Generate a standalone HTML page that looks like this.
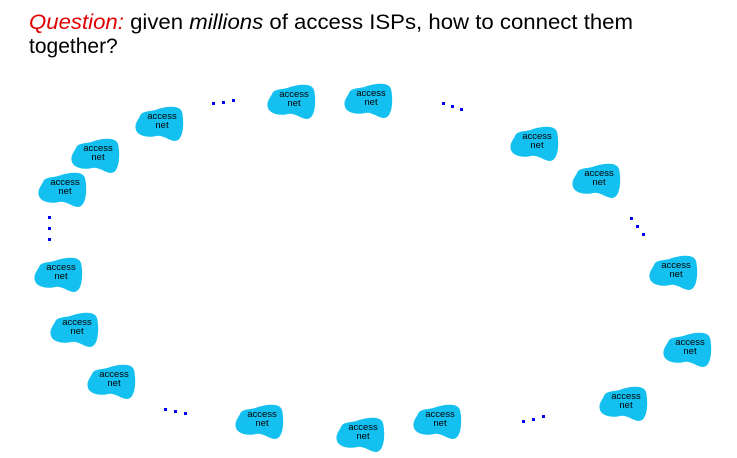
<!DOCTYPE html>
<html><head><meta charset="utf-8"><style>
html,body{margin:0;padding:0;background:#fff;}
svg{display:block;}
</style></head><body>
<svg width="737" height="458" viewBox="0 0 737 458" xmlns="http://www.w3.org/2000/svg">
<defs>
<path id="b" d="M6,10 C8,4 18,6 24,3 C34,0 46,-1 48,6 C50,14 50,30 44,34 C38,38 30,28 22,30 C14,32 4,30 2,24 C0,18 4,14 6,10 Z" fill="#14c0f0"/>
</defs>
<text x="29" y="29" font-family="Liberation Sans, sans-serif" font-size="21" textLength="604" lengthAdjust="spacingAndGlyphs"><tspan fill="#e00000" font-style="italic">Question:</tspan> given <tspan font-style="italic">millions</tspan> of access ISPs, how to connect them</text>
<text x="29" y="53" font-family="Liberation Sans, sans-serif" font-size="21">together?</text>
<g font-family="Liberation Sans, sans-serif" font-size="9.5" text-anchor="middle" fill="#000">
<g transform="translate(266,84)"><use href="#b"/><text x="28" y="13">access</text><text x="28" y="22">net</text></g>
<g transform="translate(343,83)"><use href="#b"/><text x="28" y="13">access</text><text x="28" y="22">net</text></g>
<g transform="translate(134,106)"><use href="#b"/><text x="28" y="13">access</text><text x="28" y="22">net</text></g>
<g transform="translate(70,138)"><use href="#b"/><text x="28" y="13">access</text><text x="28" y="22">net</text></g>
<g transform="translate(37,172)"><use href="#b"/><text x="28" y="13">access</text><text x="28" y="22">net</text></g>
<g transform="translate(509,126)"><use href="#b"/><text x="28" y="13">access</text><text x="28" y="22">net</text></g>
<g transform="translate(571,163)"><use href="#b"/><text x="28" y="13">access</text><text x="28" y="22">net</text></g>
<g transform="translate(33,257)"><use href="#b"/><text x="28" y="13">access</text><text x="28" y="22">net</text></g>
<g transform="translate(49,312)"><use href="#b"/><text x="28" y="13">access</text><text x="28" y="22">net</text></g>
<g transform="translate(86,364)"><use href="#b"/><text x="28" y="13">access</text><text x="28" y="22">net</text></g>
<g transform="translate(648,255)"><use href="#b"/><text x="28" y="13">access</text><text x="28" y="22">net</text></g>
<g transform="translate(662,332)"><use href="#b"/><text x="28" y="13">access</text><text x="28" y="22">net</text></g>
<g transform="translate(598,386)"><use href="#b"/><text x="28" y="13">access</text><text x="28" y="22">net</text></g>
<g transform="translate(234,404)"><use href="#b"/><text x="28" y="13">access</text><text x="28" y="22">net</text></g>
<g transform="translate(335,417)"><use href="#b"/><text x="28" y="13">access</text><text x="28" y="22">net</text></g>
<g transform="translate(412,404)"><use href="#b"/><text x="28" y="13">access</text><text x="28" y="22">net</text></g>
</g>
<g fill="#0000ee">
<rect x="212" y="102" width="3" height="3"/><rect x="222" y="101" width="3" height="3"/><rect x="232" y="99" width="3" height="3"/>
<rect x="442" y="102" width="3" height="3"/><rect x="451" y="105" width="3" height="3"/><rect x="460" y="108" width="3" height="3"/>
<rect x="630" y="217" width="3" height="3"/><rect x="636" y="225" width="3" height="3"/><rect x="642" y="233" width="3" height="3"/>
<rect x="48" y="216" width="3" height="3"/><rect x="48" y="227" width="3" height="3"/><rect x="48" y="238" width="3" height="3"/>
<rect x="164" y="408" width="3" height="3"/><rect x="174" y="410" width="3" height="3"/><rect x="184" y="412" width="3" height="3"/>
<rect x="522" y="420" width="3" height="3"/><rect x="532" y="418" width="3" height="3"/><rect x="542" y="415" width="3" height="3"/>
</g>
</svg>
</body></html>
